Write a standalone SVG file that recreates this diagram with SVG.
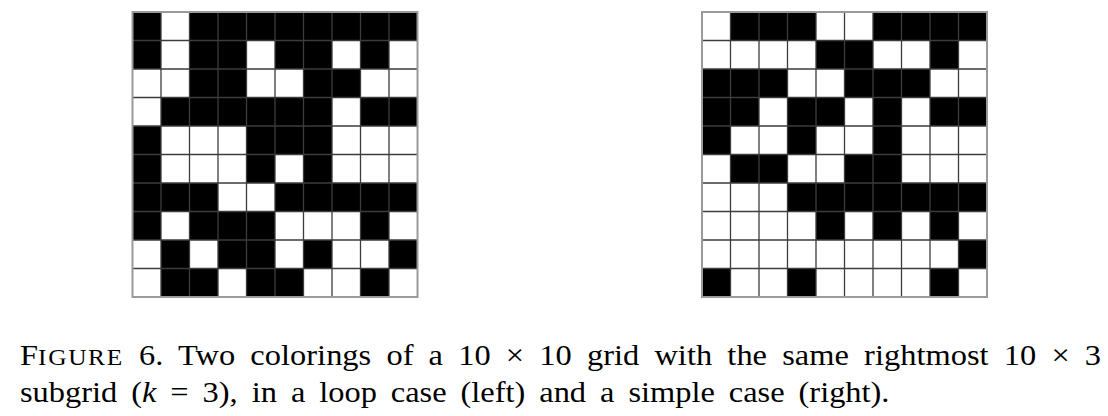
<svg xmlns="http://www.w3.org/2000/svg" width="1108" height="416" viewBox="0 0 1108 416">
<style>
.b{fill:#000}
.in{fill:none;stroke:#3c3c3c;stroke-width:1.3}
.out{fill:none;stroke:#9a9a9a;stroke-width:2}
.t{font-family:'Liberation Serif',serif;font-size:30px;fill:#000}
.sc{font-size:23.5px;letter-spacing:1.5px}
.it{font-style:italic}
</style>
<rect width="1108" height="416" fill="#fff"/>
<g id="left-grid">
<rect class="b" x="132.5" y="12" width="28.5" height="28.5"/><rect class="b" x="189.5" y="12" width="228" height="28.5"/>
<rect class="b" x="132.5" y="40.5" width="28.5" height="28.5"/><rect class="b" x="189.5" y="40.5" width="57" height="28.5"/><rect class="b" x="275" y="40.5" width="57" height="28.5"/><rect class="b" x="360.5" y="40.5" width="28.5" height="28.5"/>
<rect class="b" x="189.5" y="69" width="57" height="28.5"/><rect class="b" x="303.5" y="69" width="57" height="28.5"/>
<rect class="b" x="161" y="97.5" width="171" height="28.5"/><rect class="b" x="360.5" y="97.5" width="57" height="28.5"/>
<rect class="b" x="132.5" y="126" width="28.5" height="28.5"/><rect class="b" x="246.5" y="126" width="85.5" height="28.5"/>
<rect class="b" x="132.5" y="154.5" width="28.5" height="28.5"/><rect class="b" x="246.5" y="154.5" width="28.5" height="28.5"/><rect class="b" x="303.5" y="154.5" width="28.5" height="28.5"/>
<rect class="b" x="132.5" y="183" width="85.5" height="28.5"/><rect class="b" x="275" y="183" width="142.5" height="28.5"/>
<rect class="b" x="132.5" y="211.5" width="28.5" height="28.5"/><rect class="b" x="189.5" y="211.5" width="85.5" height="28.5"/><rect class="b" x="360.5" y="211.5" width="28.5" height="28.5"/>
<rect class="b" x="161" y="240" width="28.5" height="28.5"/><rect class="b" x="218" y="240" width="57" height="28.5"/><rect class="b" x="303.5" y="240" width="28.5" height="28.5"/><rect class="b" x="389" y="240" width="28.5" height="28.5"/>
<rect class="b" x="161" y="268.5" width="57" height="28.5"/><rect class="b" x="246.5" y="268.5" width="57" height="28.5"/><rect class="b" x="360.5" y="268.5" width="28.5" height="28.5"/>
<path class="in" d="M161,12V297M189.5,12V297M218,12V297M246.5,12V297M275,12V297M303.5,12V297M332,12V297M360.5,12V297M389,12V297M132.5,40.5H417.5M132.5,69H417.5M132.5,97.5H417.5M132.5,126H417.5M132.5,154.5H417.5M132.5,183H417.5M132.5,211.5H417.5M132.5,240H417.5M132.5,268.5H417.5"/>
<rect class="out" x="132.5" y="12" width="285" height="285"/>
</g>
<g id="right-grid">
<rect class="b" x="730.5" y="12" width="85.5" height="28.5"/><rect class="b" x="873" y="12" width="114" height="28.5"/>
<rect class="b" x="816" y="40.5" width="57" height="28.5"/><rect class="b" x="930" y="40.5" width="28.5" height="28.5"/>
<rect class="b" x="702" y="69" width="85.5" height="28.5"/><rect class="b" x="844.5" y="69" width="85.5" height="28.5"/>
<rect class="b" x="702" y="97.5" width="57" height="28.5"/><rect class="b" x="787.5" y="97.5" width="57" height="28.5"/><rect class="b" x="873" y="97.5" width="28.5" height="28.5"/><rect class="b" x="930" y="97.5" width="57" height="28.5"/>
<rect class="b" x="702" y="126" width="28.5" height="28.5"/><rect class="b" x="787.5" y="126" width="28.5" height="28.5"/><rect class="b" x="873" y="126" width="28.5" height="28.5"/>
<rect class="b" x="730.5" y="154.5" width="57" height="28.5"/><rect class="b" x="844.5" y="154.5" width="57" height="28.5"/>
<rect class="b" x="787.5" y="183" width="199.5" height="28.5"/>
<rect class="b" x="816" y="211.5" width="28.5" height="28.5"/><rect class="b" x="873" y="211.5" width="28.5" height="28.5"/><rect class="b" x="930" y="211.5" width="28.5" height="28.5"/>
<rect class="b" x="958.5" y="240" width="28.5" height="28.5"/>
<rect class="b" x="702" y="268.5" width="28.5" height="28.5"/><rect class="b" x="787.5" y="268.5" width="28.5" height="28.5"/><rect class="b" x="930" y="268.5" width="28.5" height="28.5"/>
<path class="in" d="M730.5,12V297M759,12V297M787.5,12V297M816,12V297M844.5,12V297M873,12V297M901.5,12V297M930,12V297M958.5,12V297M702,40.5H987M702,69H987M702,97.5H987M702,126H987M702,154.5H987M702,183H987M702,211.5H987M702,240H987M702,268.5H987"/>
<rect class="out" x="702" y="12" width="285" height="285"/>
</g>
<g id="caption" transform="translate(20,0) scale(1.08,1)">
<text class="t" x="0" y="365" word-spacing="6.5" textLength="1001" lengthAdjust="spacing">F<tspan class="sc">IGURE</tspan> 6. Two colorings of a 10 × 10 grid with the same rightmost 10 × 3</text>
<text class="t" x="0" y="402" word-spacing="5.5" textLength="805" lengthAdjust="spacing">subgrid (<tspan class="it">k</tspan> = 3), in a loop case (left) and a simple case (right).</text>
</g>
</svg>
